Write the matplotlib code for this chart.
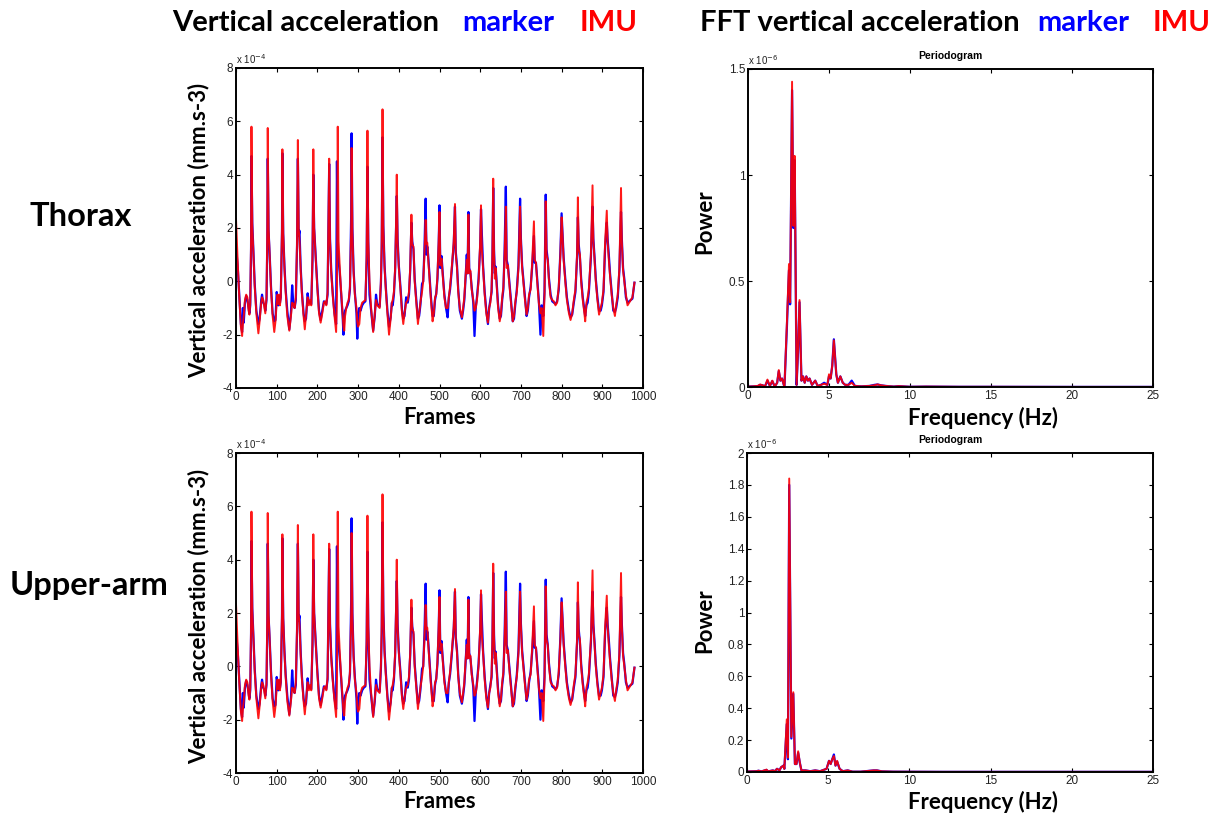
import matplotlib
matplotlib.use("Agg")
import matplotlib.pyplot as plt

W, H = 1218, 816

# ---------------- data: vertical acceleration (x 1e-4), vertices
frames = [0, 4, 8, 12, 15, 17, 19, 22, 25, 28, 31, 33, 35, 37, 38, 40, 43, 46, 50, 55,
          58, 62, 64, 67, 70, 72, 75, 77, 78, 80, 83, 86, 90, 94, 97, 100, 102, 104, 106, 108,
          110, 113, 114, 116, 119, 122, 126, 131, 135, 138, 141, 144, 147, 150, 152, 154, 156, 159, 162, 166,
          169, 172, 176, 179, 182, 185, 188, 190, 192, 196, 200, 204, 208, 212, 216, 219, 222, 225, 227, 229,
          231, 234, 238, 242, 246, 248, 250, 252, 255, 258, 262, 264, 266, 268, 271, 274, 277, 280, 283, 284,
          286, 289, 292, 296, 298, 300, 303, 306, 310, 314, 318, 321, 323, 325, 328, 332, 337, 341, 344, 347,
          350, 353, 356, 358, 360, 362, 365, 368, 372, 376, 380, 383, 385, 388, 391, 393, 395, 397, 400, 404,
          408, 411, 414, 418, 422, 425, 428, 431, 433, 436, 439, 443, 447, 450, 453, 457, 460, 463, 466, 468,
          470, 472, 475, 479, 483, 486, 489, 492, 495, 498, 500, 502, 505, 508, 512, 516, 520, 523, 526, 530,
          535, 538, 540, 543, 546, 550, 555, 558, 561, 564, 567, 569, 571, 573, 576, 579, 583, 586, 589, 592,
          596, 600, 602, 604, 607, 611, 615, 619, 622, 625, 628, 630, 632, 634, 636, 638, 641, 644, 648, 651,
          654, 657, 660, 663, 665, 668, 671, 675, 680, 683, 686, 690, 694, 698, 700, 703, 706, 710, 714, 717,
          720, 724, 728, 732, 734, 737, 740, 744, 748, 751, 755, 758, 761, 763, 766, 769, 773, 777, 781, 785,
          789, 793, 797, 800, 802, 805, 809, 813, 818, 822, 826, 830, 834, 838, 840, 842, 845, 848, 852, 856,
          858, 861, 864, 867, 872, 876, 878, 881, 884, 888, 892, 896, 899, 903, 907, 911, 913, 916, 919, 923,
          927, 931, 934, 938, 942, 946, 948, 951, 954, 958, 962, 966, 970, 974, 979]

acc_imu = [2.35, 0.8, -0.6, -1.7, -2.05, -1.6, -1.3, -0.7, -0.5, -0.6, -1.1, -1.25, -0.8, 1.5, 5.8, 2.1, 1.0, -0.2, -1.2, -1.95,
           -1.5, -0.8, -0.6, -0.7, -1.0, -1.2, -0.6, 2.0, 5.75, 2.0, 0.8, -0.3, -1.3, -1.9, -1.5, -0.8, -0.5, -0.85, -0.5, -0.9,
           -0.6, 2.0, 4.95, 1.8, 0.5, -0.4, -1.3, -1.85, -1.3, -0.8, -0.85, -1.0, -0.6, 1.5, 5.3, 2.0, 1.5, 0.4, -0.5, -1.3,
           -1.8, -1.3, -0.6, -0.9, -0.7, -0.9, 1.0, 4.95, 2.0, 0.8, -0.3, -1.2, -1.55, -1.2, -0.8, -0.75, -0.9, -0.4, 2.0, 4.6,
           1.5, 0.3, -0.6, -1.3, -1.9, -0.5, 5.8, 1.5, 0.5, -0.3, -1.2, -1.7, -1.85, -1.3, -1.0, -0.8, -0.7, -0.2, 2.0, 5.0,
           1.8, 0.3, -0.5, -1.0, -1.5, -1.7, -1.6, -1.0, -0.8, -0.75, -0.7, 1.0, 5.65, 1.5, 0.0, -1.0, -1.9, -1.2, -0.7, -0.9,
           -0.95, -1.0, 0.0, 1.5, 6.45, 2.0, 0.5, -0.3, -1.2, -2.0, -1.4, -0.8, -0.7, -0.4, 0.5, 2.0, 4.0, 1.5, 0.5, -0.3,
           -1.2, -1.6, -1.2, -0.8, -0.7, -0.4, 0.5, 2.5, 1.4, 1.3, 0.0, -0.8, -1.6, -1.2, -0.8, -0.4, 0.0, 1.0, 2.3, 1.4,
           1.45, 0.9, 0.2, -0.7, -1.5, -1.2, -0.6, -0.5, 0.2, 1.5, 2.6, 0.6, 0.85, 0.2, -0.6, -1.0, -1.0, -0.6, -0.2, 0.5,
           1.5, 2.9, 1.0, 0.5, -0.4, -1.0, -1.35, -1.0, -0.6, 0.2, 0.8, 0.3, 2.5, 0.3, 0.4, -0.3, -0.7, -1.1, -1.0, -0.7,
           0.0, 1.5, 2.85, 1.2, 0.5, -0.5, -1.2, -1.55, -1.0, -0.8, -0.3, 1.0, 3.85, 1.0, 0.1, 0.5, -0.3, -1.0, -1.5, -1.2,
           -0.6, -0.2, 1.0, 2.8, 0.5, 0.6, 0.0, -0.7, -1.5, -1.3, -0.8, -0.4, 0.5, 2.8, 1.5, 0.5, 0.0, -0.7, -1.25, -1.0,
           -0.5, -0.3, 0.8, 2.25, 0.8, 0.7, 0.0, -0.8, -1.2, -1.0, -2.05, -0.5, 3.0, 1.0, 0.8, 0.0, -0.6, -0.7, -0.75, -0.9,
           -0.8, -0.2, 1.0, 2.4, 1.8, 0.8, 0.0, -0.7, -1.2, -1.45, -1.2, -0.7, -0.3, 1.0, 3.15, 1.2, 1.0, 0.0, -0.7, -1.2,
           -1.5, -0.8, -0.6, -0.3, 1.0, 3.6, 1.5, 0.8, 0.0, -0.7, -1.25, -1.0, -0.8, -0.3, 1.5, 2.65, 1.5, 0.8, 0.2, -0.5,
           -1.0, -1.3, -0.9, -0.5, 0.5, 3.5, 1.5, 0.4, 0.0, -0.5, -0.9, -0.8, -0.7, -0.6, -0.05]

acc_marker = [1.3, 0.6, -0.5, -1.6, -1.9, -1.0, -1.55, -0.8, -0.55, -0.7, -1.0, -1.2, -0.9, 1.2, 4.7, 2.2, 1.1, -0.1, -1.1, -1.6,
              -1.4, -0.7, -0.5, -0.8, -0.9, -1.1, -0.7, 1.6, 4.6, 1.9, 0.9, -0.2, -1.2, -1.5, -1.45, -0.4, -0.6, -0.9, -0.55, -0.8,
              -0.6, 1.8, 4.8, 1.8, 0.6, -0.3, -1.1, -1.8, -1.2, -0.15, -0.9, -1.0, -0.7, 1.3, 4.6, 1.7, 1.9, 0.5, -0.4, -1.2,
              -1.5, -1.4, -0.45, -0.8, -0.8, -0.85, 0.8, 4.0, 2.0, 0.9, -0.2, -1.1, -1.45, -1.1, -0.75, -0.8, -0.85, -0.5, 1.8, 4.4,
              1.6, 0.4, -0.5, -1.2, -1.6, 4.5, 1.2, 0.8, 0.3, -0.4, -1.3, -2.0, -1.3, -1.1, -1.0, -0.9, -0.75, -0.3, 2.5, 5.55,
              2.0, 0.4, -0.4, -1.2, -2.15, -1.3, -1.0, -1.1, -0.9, -0.8, -0.75, 0.8, 4.3, 1.5, -0.5, -1.1, -1.85, -1.3, -0.5, -0.85,
              -0.9, -0.95, -0.1, 1.2, 5.4, 2.1, 0.6, -0.2, -1.1, -1.7, -1.35, -0.8, -0.9, -0.5, 0.4, 1.8, 3.2, 1.6, 0.6, -0.2,
              -1.1, -1.4, -1.3, -0.6, -0.8, -0.5, 0.4, 2.2, 1.5, 1.2, 0.1, -0.7, -1.4, -1.3, -0.9, -0.1, 0.0, 1.2, 3.1, 1.0,
              1.3, 1.0, 0.3, -0.6, -1.3, -1.3, -0.7, -0.45, 0.1, 1.4, 2.85, 0.5, 0.95, 0.3, -0.5, -1.0, -1.35, -0.6, -0.3, 0.4,
              1.4, 2.8, 1.1, 0.6, -0.3, -1.1, -1.4, -1.1, -0.7, 0.1, 1.0, 0.3, 2.6, 0.5, 0.3, -0.2, -0.8, -2.05, -1.0, -0.6,
              0.1, 1.3, 2.7, 1.8, 0.6, -0.4, -1.1, -1.6, -1.0, -0.7, -0.4, 0.8, 3.5, 1.2, 0.3, 0.55, -0.2, -0.9, -1.4, -1.3,
              -0.7, -0.3, 1.2, 3.55, 0.8, 0.6, 0.1, -0.6, -1.5, -1.4, -0.9, -0.3, 0.6, 3.1, 1.6, 0.6, 0.1, -0.6, -1.3, -1.1,
              -0.6, -0.2, 0.6, 1.7, 0.7, 0.7, 0.1, -0.7, -2.0, -0.9, -1.3, -0.4, 3.25, 1.2, 0.8, 0.1, -0.5, -0.75, -0.8, -0.85,
              -0.75, -0.3, 1.1, 2.55, 1.9, 0.9, 0.1, -0.6, -1.1, -1.35, -1.25, -0.8, -0.4, 0.9, 2.4, 1.4, 0.9, 0.1, -0.6, -1.1,
              -1.3, -0.9, -0.8, -0.4, 0.9, 2.8, 1.6, 0.9, 0.1, -0.6, -1.1, -1.1, -0.9, -0.4, 1.3, 2.2, 1.6, 1.0, 0.3, -0.4,
              -1.1, -1.15, -1.0, -0.6, 0.4, 2.6, 1.6, 0.5, 0.1, -0.6, -0.8, -0.75, -0.7, -0.65, -0.05]

# ---------------- data: periodograms (x 1e-6)
thorax_freq = [0, 0.3, 0.6, 0.75, 0.9, 1.05, 1.2, 1.35, 1.5, 1.65, 1.8, 1.9, 2.0, 2.1, 2.25, 2.4, 2.53, 2.6,
               2.72, 2.8, 2.88, 3.0, 3.1, 3.18, 3.3, 3.4, 3.5, 3.6, 3.7, 3.8, 3.95, 4.15, 4.3, 4.5, 4.7, 4.9,
               5.0, 5.1, 5.2, 5.3, 5.45, 5.55, 5.7, 5.85, 6.0, 6.2, 6.4, 6.6, 7.0, 7.5, 7.8, 8.0, 8.2, 8.5,
               9.0, 9.3, 10, 11, 13, 15, 20, 25]
thorax_pow_imu = [0.002, 0.003, 0.005, 0.012, 0.008, 0.003, 0.035, 0.005, 0.03, 0.002, 0.02, 0.08, 0.03, 0.04,
                  0.0, 0.3, 0.58, 0.4, 1.44, 0.76, 1.09, 0.01, 0.2, 0.41, 0.03, 0.05, 0.02, 0.05, 0.03, 0.04,
                  0.01, 0.03, 0.005, 0.01, 0.015, 0.01, 0.06, 0.04, 0.1, 0.22, 0.06, 0.02, 0.05, 0.02, 0.01,
                  0.01, 0.02, 0.005, 0.003, 0.005, 0.008, 0.012, 0.008, 0.005, 0.002, 0.004, 0.001, 0.002,
                  0.001, 0.001, 0.0005, 0.0005]
thorax_pow_marker = [0.002, 0.003, 0.004, 0.01, 0.008, 0.003, 0.03, 0.005, 0.028, 0.002, 0.02, 0.075, 0.03, 0.04,
                     0.0, 0.28, 0.55, 0.39, 1.4, 0.75, 1.07, 0.01, 0.19, 0.4, 0.03, 0.05, 0.02, 0.05, 0.03, 0.04,
                     0.01, 0.03, 0.005, 0.01, 0.02, 0.01, 0.05, 0.04, 0.1, 0.225, 0.06, 0.02, 0.05, 0.02, 0.01,
                     0.01, 0.03, 0.005, 0.003, 0.005, 0.01, 0.012, 0.008, 0.005, 0.002, 0.004, 0.001, 0.002,
                     0.001, 0.001, 0.0005, 0.0005]

arm_freq = [0, 0.3, 0.6, 0.7, 0.9, 1.2, 1.3, 1.6, 1.7, 1.85, 2.0, 2.1, 2.25, 2.3, 2.45, 2.52, 2.6, 2.73,
            2.85, 2.95, 3.05, 3.15, 3.25, 3.35, 3.6, 3.9, 4.2, 4.5, 4.9, 5.05, 5.15, 5.25, 5.35, 5.45,
            5.55, 5.7, 5.9, 6.2, 6.5, 7.0, 7.8, 8.0, 8.3, 9.0, 12, 25]
arm_pow_imu = [0.003, 0.004, 0.005, 0.008, 0.004, 0.015, 0.004, 0.01, 0.004, 0.02, 0.01, 0.03, 0.04, 0.02,
               0.33, 0.09, 1.84, 0.22, 0.5, 0.05, 0.05, 0.13, 0.06, 0.01, 0.01, 0.005, 0.01, 0.005, 0.02,
               0.07, 0.05, 0.08, 0.1, 0.04, 0.07, 0.02, 0.005, 0.01, 0.002, 0.002, 0.01, 0.01, 0.004,
               0.002, 0.001, 0.001]
arm_pow_marker = [0.003, 0.004, 0.005, 0.008, 0.004, 0.013, 0.004, 0.01, 0.004, 0.02, 0.01, 0.03, 0.04, 0.02,
                  0.3, 0.08, 1.8, 0.21, 0.49, 0.05, 0.05, 0.12, 0.06, 0.01, 0.01, 0.005, 0.01, 0.005, 0.02,
                  0.07, 0.05, 0.08, 0.11, 0.04, 0.065, 0.02, 0.005, 0.01, 0.002, 0.002, 0.01, 0.01, 0.004,
                  0.002, 0.001, 0.001]

acc_ticks = [-4, -2, 0, 2, 4, 6, 8]
frame_ticks = list(range(0, 1001, 100))
freq_ticks = [0, 5, 10, 15, 20, 25]
thorax_pow_ticks = [0, 0.5, 1, 1.5]
thorax_pow_labels = ["0", "0.5", "1", "1.5"]
arm_pow_ticks = [0, 0.2, 0.4, 0.6, 0.8, 1, 1.2, 1.4, 1.6, 1.8, 2]
arm_pow_labels = ["0", "0.2", "0.4", "0.6", "0.8", "1", "1.2", "1.4", "1.6", "1.8", "2"]

BLUE = "#0000ff"
RED = "#ff0000"
BOLD = "Lato"
TICKF = "Liberation Sans"

fig = plt.figure(figsize=(W / 100, H / 100), dpi=100)
fig.patch.set_facecolor("white")


def rect(l, t, r, b):
    return [l / W, 1 - b / H, (r - l) / W, (b - t) / H]


def fx(x):
    return x / W


def fy(y):
    return 1 - y / H


def style(ax):
    for s in ax.spines.values():
        s.set_linewidth(1.4)
        s.set_color("black")
    ax.tick_params(direction="in", top=True, right=True, length=3, width=0.8,
                   labelsize=8.5, pad=2, colors="black")
    for lab in ax.get_xticklabels() + ax.get_yticklabels():
        lab.set_fontfamily(TICKF)
        lab.set_color("#222222")


def acc_panel(box):
    ax = fig.add_axes(rect(*box))
    ax.plot(frames, acc_marker, color=BLUE, lw=1.6)
    ax.plot(frames, acc_imu, color=RED, lw=1.4, alpha=0.9)
    ax.set_xlim(0, 1000)
    ax.set_ylim(-4, 8)
    ax.set_xticks(frame_ticks)
    ax.set_yticks(acc_ticks)
    ax.set_yticklabels([str(t) for t in acc_ticks])
    style(ax)
    ax.text(0.0, 1.006, r"x 10$^{-4}$", transform=ax.transAxes, fontsize=7,
            family=TICKF, ha="left", va="bottom", color="#222222")
    return ax


def fft_panel(box, f, pm, pi, ymax, ticks, labels):
    ax = fig.add_axes(rect(*box))
    ax.plot(f, pm, color=BLUE, lw=1.6)
    ax.plot(f, pi, color=RED, lw=1.4, alpha=0.9)
    ax.set_xlim(0, 25)
    ax.set_ylim(0, ymax)
    ax.set_xticks(freq_ticks)
    ax.set_yticks(ticks)
    ax.set_yticklabels(labels)
    style(ax)
    ax.text(0.0, 1.006, r"x 10$^{-6}$", transform=ax.transAxes, fontsize=7,
            family=TICKF, ha="left", va="bottom", color="#222222")
    ax.text(0.5, 1.025, "Periodogram", transform=ax.transAxes, fontsize=7.5,
            family=TICKF, weight="bold", ha="center", va="bottom")
    return ax


acc_panel((236, 68, 643, 388))
acc_panel((236, 453, 643, 773))
fft_panel((748, 69, 1153, 387), thorax_freq, thorax_pow_marker, thorax_pow_imu,
          1.5, thorax_pow_ticks, thorax_pow_labels)
fft_panel((747, 453, 1153, 772), arm_freq, arm_pow_marker, arm_pow_imu,
          2.0, arm_pow_ticks, arm_pow_labels)

# titles
tsz = 21
fig.text(fx(172), fy(23), "Vertical acceleration", family=BOLD, weight="bold", fontsize=tsz, ha="left", va="center")
fig.text(fx(462), fy(23), "marker", family=BOLD, weight="bold", fontsize=tsz, color=BLUE, ha="left", va="center")
fig.text(fx(580), fy(23), "IMU", family=BOLD, weight="bold", fontsize=tsz, color=RED, ha="left", va="center")
fig.text(fx(700), fy(23), "FFT vertical acceleration", family=BOLD, weight="bold", fontsize=tsz, ha="left", va="center")
fig.text(fx(1037), fy(23), "marker", family=BOLD, weight="bold", fontsize=tsz, color=BLUE, ha="left", va="center")
fig.text(fx(1153), fy(23), "IMU", family=BOLD, weight="bold", fontsize=tsz, color=RED, ha="left", va="center")

# row labels
fig.text(fx(30), fy(217), "Thorax", family=BOLD, weight="bold", fontsize=23.5, ha="left", va="center")
fig.text(fx(10), fy(585), "Upper-arm", family=BOLD, weight="bold", fontsize=23.5, ha="left", va="center")

# axis labels
lsz = 16
for yc in (230, 616):
    fig.text(fx(199), fy(yc), "Vertical acceleration (mm.s-3)", family=BOLD, weight="bold",
             fontsize=lsz, rotation=90, ha="center", va="center")
for yc in (222, 621):
    fig.text(fx(705), fy(yc), "Power", family=BOLD, weight="bold",
             fontsize=lsz, rotation=90, ha="center", va="center")
for yc in (418, 802):
    fig.text(fx(440), fy(yc), "Frames", family=BOLD, weight="bold", fontsize=lsz, ha="center", va="center")
    fig.text(fx(983), fy(yc), "Frequency (Hz)", family=BOLD, weight="bold", fontsize=lsz, ha="center", va="center")

fig.savefig("out.png", dpi=100, facecolor="white")
